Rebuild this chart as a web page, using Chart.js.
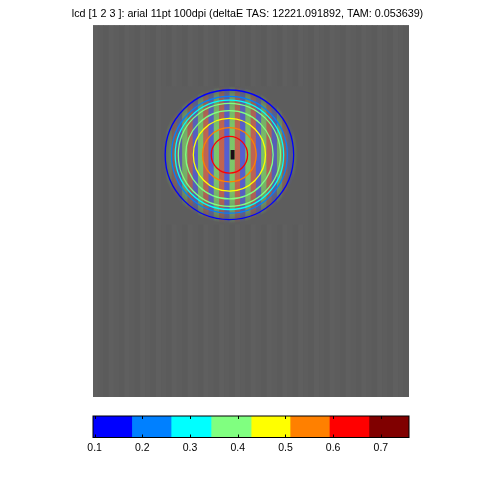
<!DOCTYPE html>
<html><head><meta charset="utf-8">
<style>html,body{margin:0;padding:0;background:#fff;overflow:hidden}
#wrap{position:relative;width:500px;height:501px}
canvas{position:absolute;left:0}</style>
<script src="https://cdn.jsdelivr.net/npm/chart.js@4"></script></head>
<body><div id="wrap">
<div style="position:absolute;left:0;top:0;width:500px;height:405px"><canvas id="main"></canvas></div>
<div style="position:absolute;left:0;top:405px;width:500px;height:60px"><canvas id="bar"></canvas></div>
</div>
<script>
const titleText = 'lcd [1 2 3 ]: arial 11pt 100dpi (deltaE TAS: 12221.091892, TAM: 0.053639)';
const backgroundLevels = [95,93,91,95,93,91,95,93,91,95,93,91,95,93,91,95,93,91,95,93,91,95,93,91,95,93,91,95,93,91,95,93,91,95,93,91,95,93,91,95,93,91,95,93,91,95,93,91,95,93,91,95,93,91,95,93,91,95,93,91];
const stripeColumns = [13,14,15,16,17,18,19,20,21,22,23,24,25,26,27,28,29,30,31,32,33,34,35,36,37,38,39];
const stripeChannels = ['b','g','r','b','g','r','b','g','r','b','g','r','b','g','r','b','g','r','b','g','r','b','g','r','b','g','r'];
const stripeStrength = [0.5,0.8,0.8,0.9,1,0.95,1,1,1,1,1,1,1,1,1,1,1,1,1,1,1,0.95,1,0.9,0.8,0.8,0.5];
const stripeTop = 11.5, stripeBottom = 37.5;
const contourCenter = [25.9, 24.4];
const contourRadii = [12.2, 11.0, 10.3, 9.7, 8.3, 6.85, 5.1, 3.45];
const contourLevels = [0.14, 0.22, 0.30, 0.38, 0.38, 0.47, 0.55, 0.63];
const peakCell = [26, 23.5, 25.3];
const binEdges = [0.0966,0.1778,0.2602,0.344,0.428,0.5096,0.592,0.675,0.759];
const binColors = ['#0000ff','#0080ff','#00ffff','#80ff80','#ffff00','#ff8000','#ff0000','#800000'];
const colorbarTicks = [0.1,0.2,0.3,0.4,0.5,0.6,0.7];

const FONT = 'Liberation Sans, Arial, sans-serif';
const channelRGB = {r:[195,100,80], g:[125,200,105], b:[85,95,210]};
const baseGray = [93,93,93];
const fadeStops = [[0,1],[0.45,0.95],[0.7,0.78],[0.85,0.5],[0.97,0.15],[1,0]];
function levelColor(v){ let i=0; while(i<binColors.length-1 && v>=binEdges[i+1]) i++; return binColors[i]; }

const plotBackground = {id:'plotBackground',beforeDatasetsDraw(chart){
  const {ctx,chartArea:a}=chart; ctx.save(); ctx.fillStyle='rgb(93,93,93)';
  ctx.fillRect(a.left,a.top,a.right-a.left,a.bottom-a.top); ctx.restore();
}};
const contours = {
  id:'contours',
  afterDatasetsDraw(chart){
    const {ctx,scales:{x,y}} = chart;
    ctx.save();
    const cx=x.getPixelForValue(contourCenter[0]), cy=y.getPixelForValue(contourCenter[1]);
    contourRadii.forEach((r,i)=>{
      const rx=Math.abs(x.getPixelForValue(contourCenter[0]+r)-cx);
      const ry=Math.abs(y.getPixelForValue(contourCenter[1]+r)-cy);
      ctx.beginPath(); ctx.ellipse(cx,cy,rx,ry,0,0,Math.PI*2);
      ctx.strokeStyle=levelColor(contourLevels[i]); ctx.lineWidth=1.3; ctx.stroke();
    });
    ctx.restore();
  }
};
const stripeFill = (ctx)=>{
  const chart=ctx.chart, idx=ctx.dataIndex;
  const c=channelRGB[stripeChannels[idx]], s=stripeStrength[idx];
  if(!chart.chartArea) return 'rgba(0,0,0,0)';
  const {x,y}=chart.scales;
  const cx=x.getPixelForValue(contourCenter[0]), cy=y.getPixelForValue(contourCenter[1]);
  const R=Math.abs(x.getPixelForValue(contourCenter[0]+13)-cx);
  const g=chart.ctx.createRadialGradient(cx,cy,0,cx,cy,R);
  fadeStops.forEach(([p,a])=>{const m=a*s;
    const v=c.map((ch,k)=>Math.round(baseGray[k]+(ch-baseGray[k])*m));
    g.addColorStop(p,`rgb(${v[0]},${v[1]},${v[2]})`)});
  return g;
};
new Chart(document.getElementById('main'),{
  type:'bar',
  data:{datasets:[
    {order:3,data:backgroundLevels.map((v,i)=>({x:i+0.5,y:[0,70]})),
     backgroundColor:c=>{const v=backgroundLevels[c.dataIndex];return `rgb(${v},${v},${v})`},borderWidth:0,barPercentage:1.15,categoryPercentage:1,grouped:false},
    {order:2,data:stripeColumns.map((c,i)=>({x:c+0.5,y:[stripeTop,stripeBottom]})),
     backgroundColor:stripeFill,borderWidth:0,barPercentage:1.15,categoryPercentage:1,grouped:false},
    {order:1,data:[{x:peakCell[0]+0.5,y:[peakCell[1],peakCell[2]]}],backgroundColor:'#1c0c14',borderWidth:0,barPercentage:0.75,categoryPercentage:1,grouped:false}
  ]},
  options:{
    responsive:true,maintainAspectRatio:false,animation:false,
    layout:{padding:{left:60,right:65,top:0,bottom:8}},
    parsing:{xAxisKey:'x',yAxisKey:'y'},
    scales:{
      x:{type:'linear',min:0,max:60,display:false,offset:false},
      y:{type:'linear',min:0,max:70,reverse:true,display:true,grid:{display:false},border:{display:false},ticks:{display:false},afterFit:s=>{s.width=33}},
      yRight:{type:'linear',position:'right',min:0,max:70,display:true,grid:{display:false},border:{display:false},ticks:{display:false},afterFit:s=>{s.width=26}}
    },
    plugins:{legend:{display:false},tooltip:{enabled:false},
      title:{display:true,text:titleText,color:'#000',font:{family:FONT,size:10.75,weight:'normal'},padding:{top:7.5,bottom:4.8}}}
  },
  plugins:[plotBackground,contours]
});

const barTicks={id:'barTicks',afterDatasetsDraw(chart){
  const {ctx,chartArea:a,scales:{x}}=chart;
  ctx.save();ctx.strokeStyle='#000';ctx.lineWidth=1;
  ctx.strokeRect(a.left,a.top,a.right-a.left,a.bottom-a.top);
  colorbarTicks.forEach(t=>{const p=Math.round(x.getPixelForValue(t))+0.5;
    ctx.beginPath();ctx.moveTo(p,a.top);ctx.lineTo(p,a.top+3);ctx.moveTo(p,a.bottom);ctx.lineTo(p,a.bottom-3);ctx.stroke();});
  ctx.restore();
}};
new Chart(document.getElementById('bar'),{
  type:'bar',
  data:{labels:['level'],datasets:binColors.map((c,i)=>({data:[[binEdges[i],binEdges[i+1]]],backgroundColor:c,borderWidth:0,barPercentage:1,categoryPercentage:1,grouped:false}))},
  options:{
    indexAxis:'y',responsive:true,maintainAspectRatio:false,animation:false,
    layout:{padding:{left:93,right:91,top:11,bottom:0}},
    scales:{
      x:{type:'linear',min:binEdges[0],max:binEdges[8],grid:{display:false,drawTicks:false},border:{display:false},
        afterBuildTicks:s=>{s.ticks=colorbarTicks.map(v=>({value:v}))},
        ticks:{autoSkip:false,maxRotation:0,color:'#000',font:{family:FONT,size:10.5},padding:4,callback:v=>v.toFixed(1)},
        afterFit:s=>{s.height=27.5}},
      y:{display:false}
    },
    plugins:{legend:{display:false},tooltip:{enabled:false},title:{display:false}}
  },
  plugins:[barTicks]
});
</script></body></html>
